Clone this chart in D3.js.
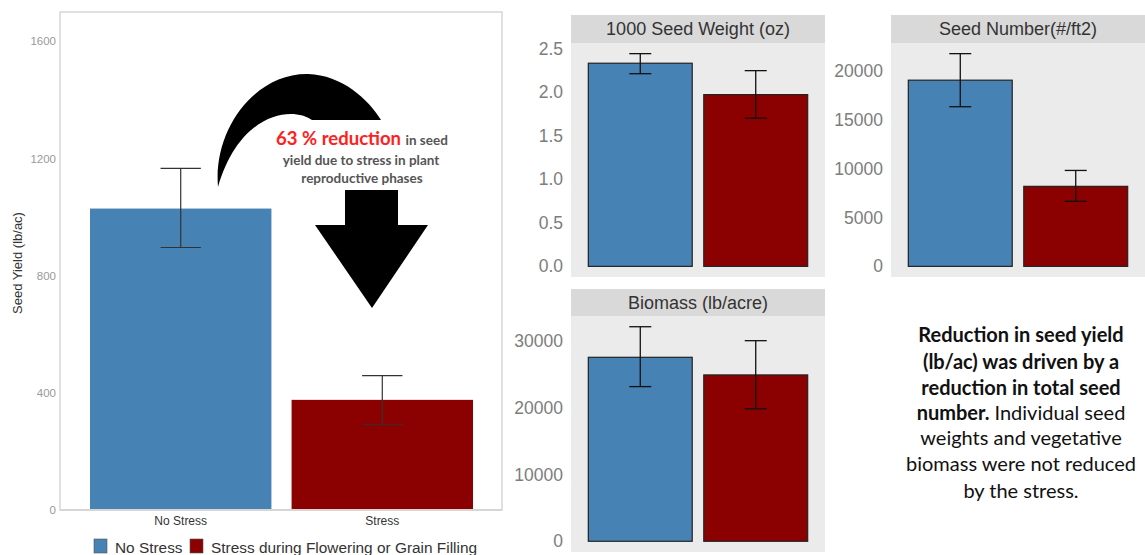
<!DOCTYPE html>
<html><head><meta charset="utf-8">
<script src="https://cdn.jsdelivr.net/npm/d3@7"></script>
<style>body{margin:0;background:#fff}svg{display:block}</style>
</head><body>
<svg id="c" width="1145" height="555"></svg>
<script>
// ---------- data ----------
const categories = ["No Stress", "Stress"];
const legendLabels = ["No Stress", "Stress during Flowering or Grain Filling"];
const colors = ["#4682B4", "#8B0000"];

const yieldMean = [1029, 376];
const yieldLow = [896, 291];
const yieldHigh = [1166, 459];
const yieldTicks = [0, 400, 800, 1200, 1600];

const seedWeightMean = [2.33, 1.97];
const seedWeightLow = [2.21, 1.70];
const seedWeightHigh = [2.44, 2.245];
const seedWeightTicks = [0, 0.5, 1.0, 1.5, 2.0, 2.5];

const seedNumberMean = [19080, 8200];
const seedNumberLow = [16360, 6670];
const seedNumberHigh = [21800, 9830];
const seedNumberTicks = [0, 5000, 10000, 15000, 20000];

const biomassMean = [27560, 24920];
const biomassLow = [23170, 19840];
const biomassHigh = [32140, 30050];
const biomassTicks = [0, 10000, 20000, 30000];

const svg = d3.select("#c");
const SANS = "Liberation Sans, Arial, sans-serif";

// ---------- main panel ----------
const main = {x0: 60, x1: 502, y0: 12, y1: 510};
const xMain = d3.scaleBand().domain(categories).range([90, 473]).paddingInner(0.1).paddingOuter(0);
const yMain = d3.scaleLinear().domain([0, 1700]).range([main.y1, main.y0]);

svg.append("rect").attr("x", main.x0).attr("y", main.y0)
  .attr("width", main.x1 - main.x0).attr("height", main.y1 - main.y0)
  .attr("fill", "#fff").attr("stroke", "#d6d6d6").attr("stroke-width", 1.5);

const gMain = svg.append("g");
gMain.selectAll("rect.bar").data(categories).join("rect")
  .attr("x", d => xMain(d)).attr("width", xMain.bandwidth())
  .attr("y", (d, i) => yMain(yieldMean[i]))
  .attr("height", (d, i) => yMain(0) - yMain(yieldMean[i]))
  .attr("fill", (d, i) => colors[i]);

function errorBars(g, xs, ys, lows, highs, capW, color, sw) {
  categories.forEach((c, i) => {
    const cx = xs(c) + xs.bandwidth() / 2;
    g.append("line").attr("x1", cx).attr("x2", cx).attr("y1", ys(lows[i])).attr("y2", ys(highs[i]))
      .attr("stroke", color).attr("stroke-width", sw);
    [lows[i], highs[i]].forEach(v => {
      g.append("line").attr("x1", cx - capW / 2).attr("x2", cx + capW / 2)
        .attr("y1", ys(v)).attr("y2", ys(v)).attr("stroke", color).attr("stroke-width", sw);
    });
  });
}
errorBars(gMain, xMain, yMain, yieldLow, yieldHigh, xMain.step() * 0.2, "#333", 1.2);

gMain.append("line").attr("x1", main.x0).attr("x2", main.x1).attr("y1", main.y1).attr("y2", main.y1)
  .attr("stroke", "#d6d6d6").attr("stroke-width", 2);

const yAxMain = d3.axisLeft(yMain).tickValues(yieldTicks).tickSize(0).tickPadding(4).tickFormat(d3.format("d"));
svg.append("g").attr("transform", `translate(${main.x0},0)`).call(yAxMain)
  .call(g => g.select(".domain").remove())
  .call(g => g.selectAll("text").attr("fill", "#9a9a9a").attr("font-size", 11.5).attr("font-family", SANS));

const xAxMain = d3.axisBottom(xMain).tickSize(0).tickPadding(6);
svg.append("g").attr("transform", `translate(0,${main.y1})`).call(xAxMain)
  .call(g => g.select(".domain").remove())
  .call(g => g.selectAll("text").attr("fill", "#333").attr("font-size", 12).attr("font-family", SANS));

svg.append("text").attr("transform", "translate(22,263) rotate(-90)")
  .attr("text-anchor", "middle").attr("font-family", SANS)
  .attr("font-size", 13).attr("fill", "#333").text("Seed Yield (lb/ac)");

// legend
const leg = svg.append("g").attr("font-family", SANS).attr("font-size", 15.4).attr("fill", "#333");
const legX = [94, 190];
legendLabels.forEach((l, i) => {
  leg.append("rect").attr("x", legX[i]).attr("y", 539).attr("width", 13).attr("height", 14)
    .attr("fill", colors[i]).attr("stroke", "#555").attr("stroke-width", 0.6);
  leg.append("text").attr("x", legX[i] + 21).attr("y", 552.5).text(l);
});

// annotation arrows
svg.append("path")
  .attr("d", "M218,187 C213,128 256,73 308,74 C342,75 368,99 381,120 L312,120 C292,106 240,112 218,187 Z")
  .attr("fill", "#000");
svg.append("path")
  .attr("d", "M345,190 L398,190 L398,225 L428,225 L372,308 L315,225 L345,225 Z")
  .attr("fill", "#000");

const ann = svg.append("g").attr("font-family", "Lato, 'Open Sans', sans-serif").attr("text-anchor", "middle");
const t1 = ann.append("text").attr("x", 362).attr("y", 145);
t1.append("tspan").attr("fill", "#ff2020").attr("font-weight", "bold").attr("font-size", 18.5).text("63 % reduction ");
t1.append("tspan").attr("fill", "#555").attr("font-weight", "bold").attr("font-size", 13.5).text("in seed");
ann.append("text").attr("x", 361).attr("y", 165).attr("fill", "#555").attr("font-weight", "bold").attr("font-size", 13.5).text("yield due to stress in plant");
ann.append("text").attr("x", 362).attr("y", 183).attr("fill", "#555").attr("font-weight", "bold").attr("font-size", 13.5).text("reproductive phases");

// ---------- facet panels ----------
function facet(opts) {
  const {x0, x1, stripY0, stripY1, y1, title, mean, low, high, ticks, fmt} = opts;
  const g = svg.append("g");
  g.append("rect").attr("x", x0).attr("y", stripY0).attr("width", x1 - x0).attr("height", stripY1 - stripY0).attr("fill", "#d9d9d9");
  g.append("rect").attr("x", x0).attr("y", stripY1).attr("width", x1 - x0).attr("height", y1 - stripY1).attr("fill", "#ebebeb");
  g.append("text").attr("x", (x0 + x1) / 2).attr("y", (stripY0 + stripY1) / 2 + 6)
    .attr("text-anchor", "middle").attr("font-family", SANS)
    .attr("font-size", 18).attr("fill", "#333").text(title);
  const maxV = d3.max(high);
  const ys = d3.scaleLinear().domain([-0.05 * maxV, maxV * 1.05]).range([y1, stripY1]);
  const unit = (x1 - x0) / 2.2;
  const xs = d3.scaleBand().domain(categories).range([x0 + 0.15 * unit, x1 - 0.15 * unit]).paddingInner(0.1).paddingOuter(0);
  g.selectAll("rect.bar").data(categories).join("rect")
    .attr("x", d => xs(d)).attr("width", xs.bandwidth())
    .attr("y", (d, i) => ys(mean[i])).attr("height", (d, i) => ys(0) - ys(mean[i]))
    .attr("fill", (d, i) => colors[i]).attr("stroke", "#222").attr("stroke-width", 1.2);
  errorBars(g, xs, ys, low, high, 22, "#111", 1.3);
  const ax = d3.axisLeft(ys).tickValues(ticks).tickSize(0).tickPadding(8).tickFormat(fmt);
  g.append("g").attr("transform", `translate(${x0},0)`).call(ax)
    .call(a => a.select(".domain").remove())
    .call(a => a.selectAll("text").attr("fill", "#7d7d7d").attr("font-size", 17.5).attr("font-family", SANS));
}

facet({x0: 571, x1: 825, stripY0: 15, stripY1: 43, y1: 277, title: "1000 Seed Weight (oz)",
  mean: seedWeightMean, low: seedWeightLow, high: seedWeightHigh, ticks: seedWeightTicks, fmt: d3.format(".1f")});
facet({x0: 891, x1: 1145, stripY0: 15, stripY1: 43, y1: 277, title: "Seed Number(#/ft2)",
  mean: seedNumberMean, low: seedNumberLow, high: seedNumberHigh, ticks: seedNumberTicks, fmt: d3.format("d")});
facet({x0: 571, x1: 825, stripY0: 289, stripY1: 316, y1: 552, title: "Biomass (lb/acre)",
  mean: biomassMean, low: biomassLow, high: biomassHigh, ticks: biomassTicks, fmt: d3.format("d")});

// ---------- right text block ----------
const tb = svg.append("g").attr("font-family", "Lato, 'Open Sans', sans-serif").attr("font-size", 20)
  .attr("fill", "#111").attr("text-anchor", "middle");
const lines = [
  [["Reduction in seed yield", true]],
  [["(lb/ac) was driven by a", true]],
  [["reduction in total seed", true]],
  [["number.", true], [" Individual seed", false]],
  [["weights and vegetative", false]],
  [["biomass were not reduced", false]],
  [["by the stress.", false]]
];
const lineY = [342, 369, 395, 420, 445, 471, 498];
lines.forEach((parts, i) => {
  const t = tb.append("text").attr("x", 1021).attr("y", lineY[i]);
  parts.forEach(([s, b]) => t.append("tspan").attr("font-weight", b ? "bold" : "normal").text(s));
});
</script>
</body></html>
